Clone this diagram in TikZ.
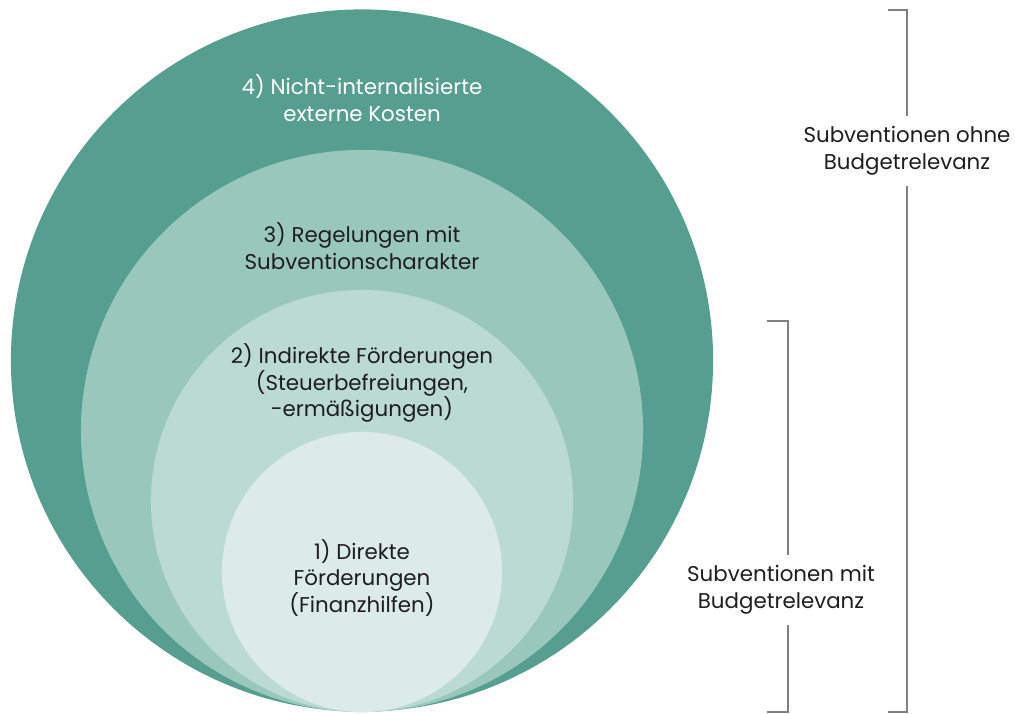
\documentclass[tikz,border=0pt]{standalone}
\usepackage{fontspec}
\setmainfont{Poppins}
\usepackage{tikz}
\usetikzlibrary{positioning}
\definecolor{ring4}{RGB}{86,158,143}
\definecolor{ring3}{RGB}{154,199,188}
\definecolor{ring2}{RGB}{187,218,212}
\definecolor{ring1}{RGB}{220,235,232}
\definecolor{txt}{RGB}{30,30,30}
\definecolor{brace}{RGB}{128,128,128}

\begin{document}
\begin{tikzpicture}[x=0.025cm, y=-0.025cm]
\tikzset{RingStyle/.style = {shape=circle, inner sep=0pt, draw=none}}
\tikzset{LabelStyle/.style = {align=center, text=txt, font=\fontsize{15.2}{19.1}\selectfont}}
\tikzset{BraceStyle/.style = {draw=brace, line width=1pt}}
\useasboundingbox (0,0) rectangle (1015,714);
	% rings, all touching at the bottom
	\node[RingStyle, fill=ring4, minimum size=17.55cm] (r4) at (362,360.5) {};
	\node[RingStyle, fill=ring3, minimum size=14.05cm] (r3) at (362,431) {};
	\node[RingStyle, fill=ring2, minimum size=10.55cm] (r2) at (362,501) {};
	\node[RingStyle, fill=ring1, minimum size=7cm] (r1) at (362,572) {};
	% ring labels
	\node[LabelStyle, text=white] (l4) at (362,98) {4) Nicht-internalisierte\\externe Kosten};
	\node[LabelStyle] (l3) at (362,246) {3) Regelungen mit\\Subventionscharakter};
	\node[LabelStyle] (l2) at (362,383) {2) Indirekte Förderungen\\(Steuerbefreiungen,\\-ermäßigungen)};
	\node[LabelStyle] (l1) at (362,578) {1) Direkte\\Förderungen\\(Finanzhilfen)};
	% brackets
	\node[LabelStyle, inner ysep=7pt] (ohne) at (907,151) {Subventionen ohne\\Budgetrelevanz};
	\node[LabelStyle, inner ysep=7pt] (mit) at (781,590) {Subventionen mit\\Budgetrelevanz};
	\coordinate (o1) at (888,10);
	\coordinate (o2) at (907,10);
	\coordinate (o3) at (907,712);
	\coordinate (o4) at (888,712);
	\coordinate (m1) at (767,321);
	\coordinate (m2) at (788,321);
	\coordinate (m3) at (788,712);
	\coordinate (m4) at (767,712);
	\draw[BraceStyle] (o1) -- (o2) -- (o2 |- ohne.north);
	\draw[BraceStyle] (o3 |- ohne.south) -- (o3) -- (o4);
	\draw[BraceStyle] (m1) -- (m2) -- (m2 |- mit.north);
	\draw[BraceStyle] (m3 |- mit.south) -- (m3) -- (m4);
\end{tikzpicture}
\end{document}
